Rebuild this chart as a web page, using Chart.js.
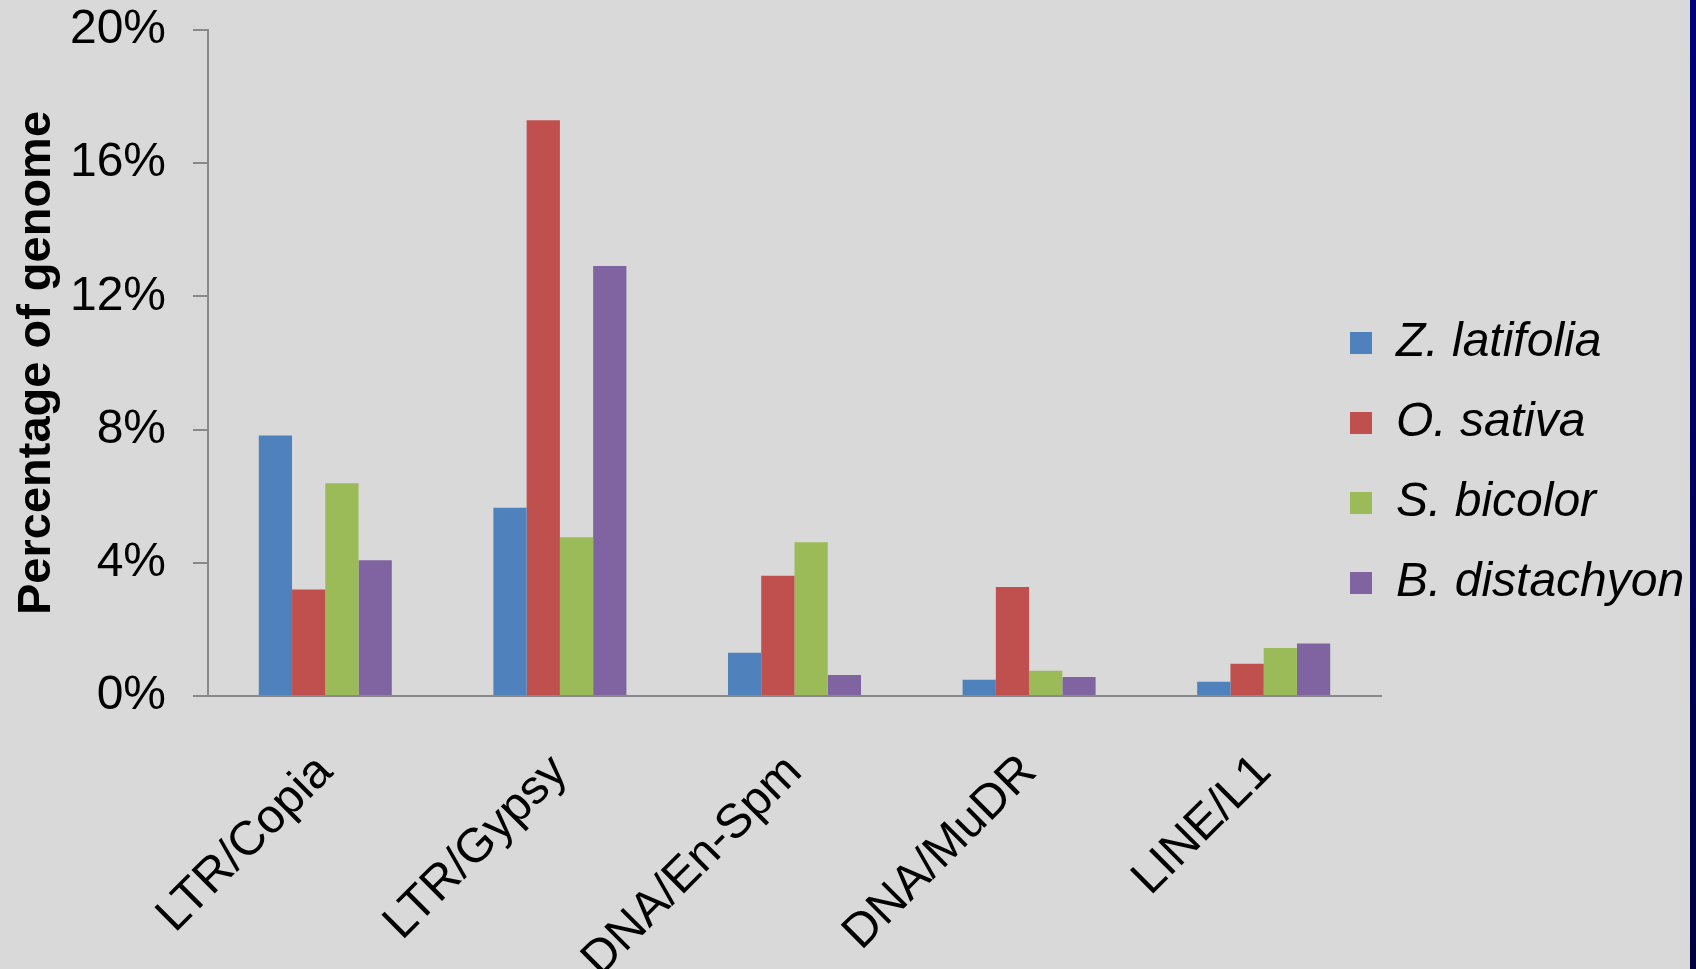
<!DOCTYPE html>
<html>
<head>
<meta charset="utf-8">
<script src="https://cdn.jsdelivr.net/npm/chart.js@4.4.1/dist/chart.umd.min.js"></script>
<style>
    html, body { margin: 0; padding: 0; }
    body {
        width: 1696px; height: 969px; overflow: hidden;
        background: linear-gradient(#00007a, #000040);
    }
    #wrap { width: 1690px; height: 969px; background: #d9d9d9; }
</style>
</head>
<body>
<div id="wrap"><canvas id="repeatChart"></canvas></div>
<script>
// data (percent of genome)
const categories = ['LTR/Copia', 'LTR/Gypsy', 'DNA/En-Spm', 'DNA/MuDR', 'LINE/L1'];
const zLatifolia = [7.82, 5.65, 1.30, 0.49, 0.43];
const oSativa = [3.20, 17.29, 3.61, 3.27, 0.97];
const sBicolor = [6.39, 4.77, 4.62, 0.76, 1.44];
const bDistachyon = [4.08, 12.91, 0.63, 0.57, 1.58];
const yMax = 20;
const yStep = 4;

const FONT = '"Liberation Sans", Arial, sans-serif';
const AXIS_GREY = '#898989';

// legend sits partly over the plot's right end, as in the original slide
const legendPlace = {
    id: 'legendPlace',
    afterLayout(chart) {
        const lg = chart.legend;
        lg.left = 1318;
        lg.right = 1690;
        lg.width = lg.right - lg.left;
        lg.top = 0;
        lg.bottom = 926;
        lg.height = lg.bottom - lg.top;
    }
};

new Chart(document.getElementById('repeatChart'), {
    type: 'bar',
    data: {
        labels: categories,
        datasets: [
            { label: 'Z. latifolia', data: zLatifolia, backgroundColor: '#4f81bd' },
            { label: 'O. sativa', data: oSativa, backgroundColor: '#c0504d' },
            { label: 'S. bicolor', data: sBicolor, backgroundColor: '#9bbb59' },
            { label: 'B. distachyon', data: bDistachyon, backgroundColor: '#8064a2' }
        ]
    },
    options: {
        responsive: true,
        maintainAspectRatio: false,
        animation: false,
        layout: { padding: 0 },
        datasets: { bar: { categoryPercentage: 0.567, barPercentage: 1.0 } },
        plugins: {
            tooltip: { enabled: false },
            legend: {
                position: 'right',
                maxWidth: 309,
                labels: {
                    boxWidth: 22,
                    boxHeight: 22,
                    padding: 32,
                    color: '#000',
                    font: { family: FONT, size: 48, style: 'italic' }
                }
            }
        },
        scales: {
            x: {
                afterFit: (scale) => { scale.height = 273; },
                grid: { display: false },
                border: { display: true, color: AXIS_GREY, width: 2 },
                ticks: {
                    minRotation: 45,
                    maxRotation: 45,
                    padding: 40,
                    color: '#000',
                    font: { family: FONT, size: 48 }
                }
            },
            y: {
                min: 0,
                max: yMax,
                afterFit: (scale) => {
                    scale.width = 208;
                    scale.paddingTop = 30;
                    scale.paddingBottom = 0;
                },
                grid: { drawOnChartArea: false, tickLength: 15, color: AXIS_GREY, lineWidth: 2 },
                border: { display: true, color: AXIS_GREY, width: 2 },
                ticks: {
                    stepSize: yStep,
                    padding: 27,
                    color: '#000',
                    font: { family: FONT, size: 48 },
                    callback: (v) => v + '%'
                },
                title: {
                    display: true,
                    text: 'Percentage of genome',
                    color: '#000',
                    padding: { top: 9, bottom: 0 },
                    font: { family: FONT, size: 47, weight: 'bold' }
                }
            }
        }
    },
    plugins: [legendPlace]
});
</script>
</body>
</html>
